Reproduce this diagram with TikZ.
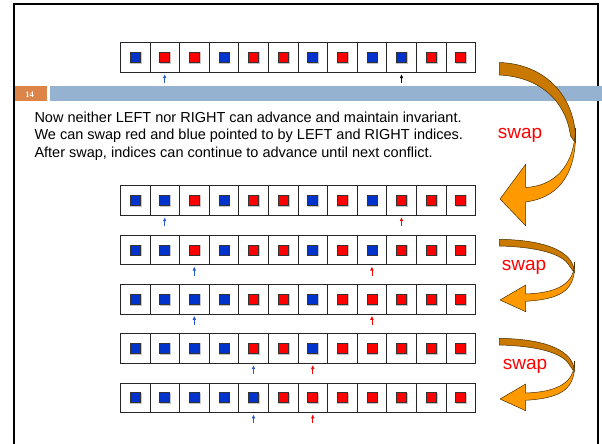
\documentclass[tikz,border=0pt]{standalone}
\usepackage{fontspec}
\setmainfont{Liberation Sans}
\newfontfamily\numserif{Liberation Serif}
\usetikzlibrary{arrows.meta}
\definecolor{cblue}{HTML}{0033CC}
\definecolor{cred}{HTML}{FF0000}
\definecolor{barblue}{HTML}{95B3D1}
\definecolor{barorange}{HTML}{DD8448}
\definecolor{darkor}{HTML}{C97800}
\definecolor{lightor}{HTML}{FF9900}
\definecolor{arrblue}{HTML}{2A5BD7}
\definecolor{arredge}{HTML}{4A3000}
\newcommand\cellrow[3]{%
  \foreach \c [count=\i from 0] in {#3} {
    \node[cell] (#1-\i) at ({135.1+29.6*\i},#2) {};
    \node[shad] at ([xshift=0.7pt,yshift=-0.7pt]#1-\i.center) {};
    \node[sq\c] (#1-\i-in) at (#1-\i.center) {};
  }%
}
\newcommand\ptr[2]{\draw[ptr,#2] ([yshift=-10.5pt]#1.south) -- ([yshift=-1.5pt]#1.south);}
\begin{document}
\begin{tikzpicture}[x=1pt,y=-1pt,
  cell/.style={draw=black!85,line width=0.8pt,minimum width=29.6pt,minimum height=29.6pt,inner sep=0pt,fill=white},
  shad/.style={fill=gray!45,minimum size=11.6pt,inner sep=0pt},
  sq/.style={draw=black!80,line width=0.5pt,minimum size=10pt,inner sep=0pt},
  sqB/.style={sq,fill=cblue},
  sqR/.style={sq,fill=cred},
  ptr/.style={line width=0.8pt,-{Latex[length=4pt,width=3.8pt]}},
  txt/.style={font=\fontsize{14.5}{17}\selectfont,inner sep=0pt,anchor=base west},
  swaptxt/.style={text=cred,font=\fontsize{19}{22}\selectfont,inner sep=0pt},
  back/.style={fill=darkor,draw=arredge,line width=0.5pt,line join=round},
  front/.style={fill=lightor,draw=arredge,line width=0.5pt,line join=round}]
\useasboundingbox (0,0) rectangle (602,444);
\fill[white] (0,0) rectangle (602,444);
% frame
\draw[line width=2.2pt] (13.7,446) -- (13.7,4.3) -- (597.8,4.3) -- (597.8,446);
% header bar
\fill[barorange] (14.8,86) rectangle (47,100.7);
\fill[barblue] (50,86) rectangle (602,100.7);
\node[text=white,font=\numserif\bfseries\fontsize{8.5}{10}\selectfont,inner sep=0pt] (num) at (29.5,94.2) {14};
% top row
\cellrow{a}{57.5}{B,R,R,B,R,R,B,R,B,B,R,R}
\ptr{a-1}{arrblue}
\ptr{a-9}{black}
% text
\node[txt] (t1) at (34.3,122) {Now neither LEFT nor RIGHT can advance and maintain invariant.};
\node[txt] (t2) at (34.3,139.9) {We can swap red and blue pointed to by LEFT and RIGHT indices.};
\node[txt] (t3) at (34.3,157.8) {After swap, indices can continue to advance until next conflict.};
% lower rows
\cellrow{b}{200.5}{B,B,R,B,R,R,B,R,B,R,R,R}
\ptr{b-1}{arrblue}
\ptr{b-9}{cred}
\cellrow{c}{249.8}{B,B,R,B,R,R,B,R,B,R,R,R}
\ptr{c-2}{arrblue}
\ptr{c-8}{cred}
\cellrow{d}{299.1}{B,B,B,B,R,R,B,R,R,R,R,R}
\ptr{d-2}{arrblue}
\ptr{d-8}{cred}
\cellrow{e}{348.4}{B,B,B,B,R,R,B,R,R,R,R,R}
\ptr{e-4}{arrblue}
\ptr{e-6}{cred}
\cellrow{f}{397.7}{B,B,B,B,B,R,R,R,R,R,R,R}
\ptr{f-4}{arrblue}
\ptr{f-6}{cred}
% big curved arrow
\path[back] (499.3,62.5) .. controls (548,64) and (577,100) .. (575.5,143)
  -- (570.5,136) .. controls (566,102) and (541,77) .. (499.3,75) -- cycle;
\path[front] (575.5,128) .. controls (574.5,168) and (553,186) .. (525.7,187.5)
  -- (525.7,164.3) -- (500,199) -- (525.7,225.7) -- (525.7,202)
  .. controls (562,197) and (577,170) .. (575.5,128) -- cycle;
\node[swaptxt] (s1) at (520,135) {swap};
% small curved arrows
\foreach \off in {0,99} {
  \begin{scope}[shift={(0,\off)}]
  \path[back] (499.3,239.3) .. controls (545,240) and (574,251) .. (574.5,273)
    -- (569.5,266) .. controls (563,254) and (538,247) .. (499.3,246) -- cycle;
  \path[front] (574.5,262) .. controls (575,285) and (555,293) .. (525.7,294)
    -- (525.7,285) -- (500,300) -- (525.7,311.7) -- (525.7,301.3)
    .. controls (562,299) and (576,290) .. (574.5,262) -- cycle;
  \end{scope}
}
\node[swaptxt] (s2) at (524,267.5) {swap};
\node[swaptxt] (s3) at (525,366) {swap};
\end{tikzpicture}
\end{document}
